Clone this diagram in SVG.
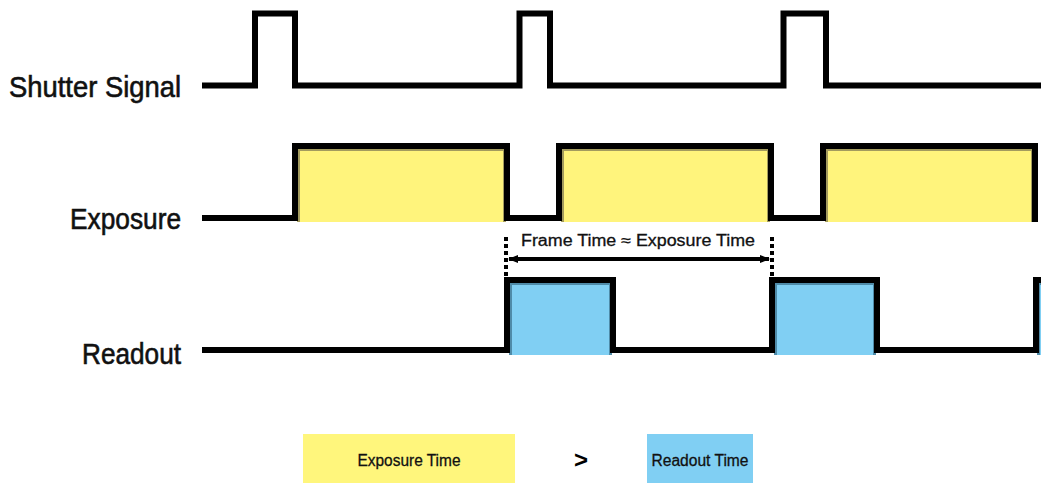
<svg xmlns="http://www.w3.org/2000/svg" width="1041" height="483" viewBox="0 0 1041 483">
<style>
.sig{fill:none;stroke:#000;stroke-width:6;stroke-linejoin:miter;stroke-linecap:butt}
.exp{fill:#fff47c;stroke:#a39b5e;stroke-width:3}
.rd{fill:#80cff3;stroke:#4f8ba8;stroke-width:3}
.lbl{font-family:"Liberation Sans Narrow","Liberation Sans",Arial,sans-serif;font-size:29px;fill:#111;stroke:#111;stroke-width:0.6;text-anchor:end}
.sm{font-family:"Liberation Sans Narrow","Liberation Sans",Arial,sans-serif;font-size:16px;fill:#111;stroke:#111;stroke-width:0.3;text-anchor:middle}
.dot{stroke:#000;stroke-width:4;stroke-dasharray:4 3;fill:none}
</style>
<defs>
<marker id="ah" markerWidth="10" markerHeight="8" refX="9" refY="4" orient="auto-start-reverse" markerUnits="userSpaceOnUse">
<path d="M0,0 L10,4 L0,8 Z" fill="#000"/>
</marker>
</defs>
<rect width="1041" height="483" fill="#fff"/>
<g id="label-shutter"><text class="lbl" x="181" y="97" textLength="172" lengthAdjust="spacingAndGlyphs">Shutter Signal</text></g>
<g id="label-exposure"><text class="lbl" x="181" y="229" textLength="111" lengthAdjust="spacingAndGlyphs">Exposure</text></g>
<g id="label-readout"><text class="lbl" x="181" y="364" textLength="99" lengthAdjust="spacingAndGlyphs">Readout</text></g>

<g id="exposure-blocks">
<rect class="exp" x="298.5" y="149.5" width="206" height="76"/>
<rect class="exp" x="562.5" y="149.5" width="206" height="76"/>
<rect class="exp" x="826.5" y="149.5" width="206" height="76"/>
</g>
<g id="readout-blocks">
<rect class="rd" x="510.5" y="283.5" width="100" height="76"/>
<rect class="rd" x="775.5" y="283.5" width="99" height="76"/>
<rect class="rd" x="1038.5" y="283.5" width="10" height="76"/>
</g>
<rect x="290" y="222" width="751" height="10" fill="#fff"/>
<rect x="500" y="355" width="541" height="10" fill="#fff"/>

<g id="signals">
<path id="shutter" class="sig" d="M202,85.5 H255 V13.5 H295 V85.5 H519.5 V13.5 H550 V85.5 H783.5 V13.5 H826 V85.5 H1041"/>
<path id="exposure" class="sig" d="M202,218 H295 V146 H507 V218 H559 V146 H771 V218 H823 V146 H1035 V222"/>
<path id="readout" class="sig" d="M202,350 H507 V280 H613 V350 H772 V280 H877 V350 H1036 V280 H1045"/>
</g>

<g id="connectors">
<line class="dot" x1="506" y1="237" x2="506" y2="276"/>
<line class="dot" x1="772" y1="237" x2="772" y2="276"/>
<line x1="509" y1="259" x2="769" y2="259" stroke="#000" stroke-width="4" marker-start="url(#ah)" marker-end="url(#ah)"/>
</g>
<g id="frame-label"><text class="sm" x="638" y="246" textLength="234" lengthAdjust="spacingAndGlyphs">Frame Time ≈ Exposure Time</text></g>

<g id="legend-exposure">
<rect x="303" y="434" width="212" height="49" fill="#fff67c"/>
<text class="sm" x="409" y="466" font-size="15" textLength="103" lengthAdjust="spacingAndGlyphs">Exposure Time</text>
</g>
<g id="legend-gt"><text x="581" y="468" font-family="Liberation Sans,Arial,sans-serif" font-size="24" font-weight="bold" text-anchor="middle" fill="#000">&gt;</text></g>
<g id="legend-readout">
<rect x="647" y="434" width="106" height="49" fill="#80cff3"/>
<text class="sm" x="700" y="466" font-size="15" textLength="97" lengthAdjust="spacingAndGlyphs">Readout Time</text>
</g>
</svg>
